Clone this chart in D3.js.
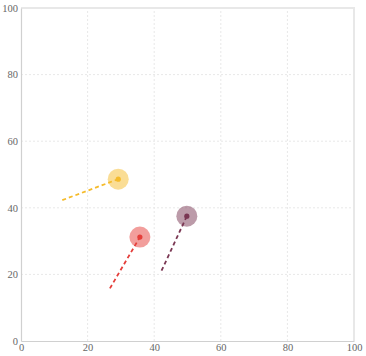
<!DOCTYPE html>
<html lang="en">
<head>
<meta charset="utf-8">
<title>Arrows</title>
<script src="https://d3js.org/d3.v7.min.js"></script>
<style>
  body { margin: 0; background: #fff; }
  text { font-family: "Liberation Serif", "DejaVu Serif", serif; }
  .grid line { stroke: #e8e8e8; stroke-dasharray: 2,2; }
</style>
</head>
<body>
<div id="chart"></div>
<script>
var width = 366, height = 356;
var margin = {top: 8, right: 12, bottom: 15, left: 21};

// start and end points of each arrow
var names = ["a", "b", "c"];
var startX = [12.4, 26.7, 42.2];
var startY = [42.3, 15.8, 21.1];
var endX = [29.2, 35.7, 49.8];
var endY = [48.6, 31.2, 37.5];
var colors = ["#f5bb2b", "#e53e3a", "#7a3753"];
var ticks = [0, 20, 40, 60, 80, 100];

var svg = d3.select("#chart").append("svg")
  .attr("width", width)
  .attr("height", height);

var x = d3.scaleLinear().domain([0, 100]).range([margin.left, width - margin.right]);
var y = d3.scaleLinear().domain([0, 100]).range([height - margin.bottom, margin.top]);

// grid
var grid = svg.append("g").attr("class", "grid");
grid.selectAll(".gx").data(ticks.slice(1, -1)).enter().append("line")
  .attr("x1", d => x(d)).attr("x2", d => x(d))
  .attr("y1", y(0)).attr("y2", y(100));
grid.selectAll(".gy").data(ticks.slice(1, -1)).enter().append("line")
  .attr("y1", d => y(d)).attr("y2", d => y(d))
  .attr("x1", x(0)).attr("x2", x(100));

// top + right frame
svg.append("path")
  .attr("d", "M" + x(0) + "," + y(100) + "H" + x(100) + "V" + y(0))
  .attr("fill", "none").attr("stroke", "#e8e8e8").attr("stroke-width", 2);

var xAxis = svg.append("g")
  .attr("transform", "translate(0," + y(0) + ")")
  .call(d3.axisBottom(x).tickValues(ticks).tickSize(0).tickPadding(3));
var yAxis = svg.append("g")
  .attr("transform", "translate(" + x(0) + ",0)")
  .call(d3.axisLeft(y).tickValues(ticks).tickSize(0).tickPadding(3));
[xAxis, yAxis].forEach(function(a) {
  a.select(".domain").attr("stroke", "#d0d0d0").attr("stroke-width", 1.2);
  a.selectAll("text").attr("fill", "#666").style("font-size", "10.5px")
    .style("font-family", '"Liberation Serif", serif');
});

var data = names.map(function(n, i) {
  return {x0: startX[i], y0: startY[i], x1: endX[i], y1: endY[i], c: colors[i]};
});

var g = svg.append("g");
g.selectAll(".halo").data(data).enter().append("circle")
  .attr("cx", d => x(d.x1)).attr("cy", d => y(d.y1)).attr("r", 10.5)
  .attr("fill", d => d.c).attr("opacity", 0.5);
g.selectAll(".seg").data(data).enter().append("line")
  .attr("x1", d => x(d.x0)).attr("y1", d => y(d.y0))
  .attr("x2", d => x(d.x1)).attr("y2", d => y(d.y1))
  .attr("stroke", d => d.c).attr("stroke-width", 1.8)
  .attr("stroke-dasharray", "4,3");
g.selectAll(".dot").data(data).enter().append("circle")
  .attr("cx", d => x(d.x1)).attr("cy", d => y(d.y1)).attr("r", 2.6)
  .attr("fill", d => d.c);
</script>
</body>
</html>
